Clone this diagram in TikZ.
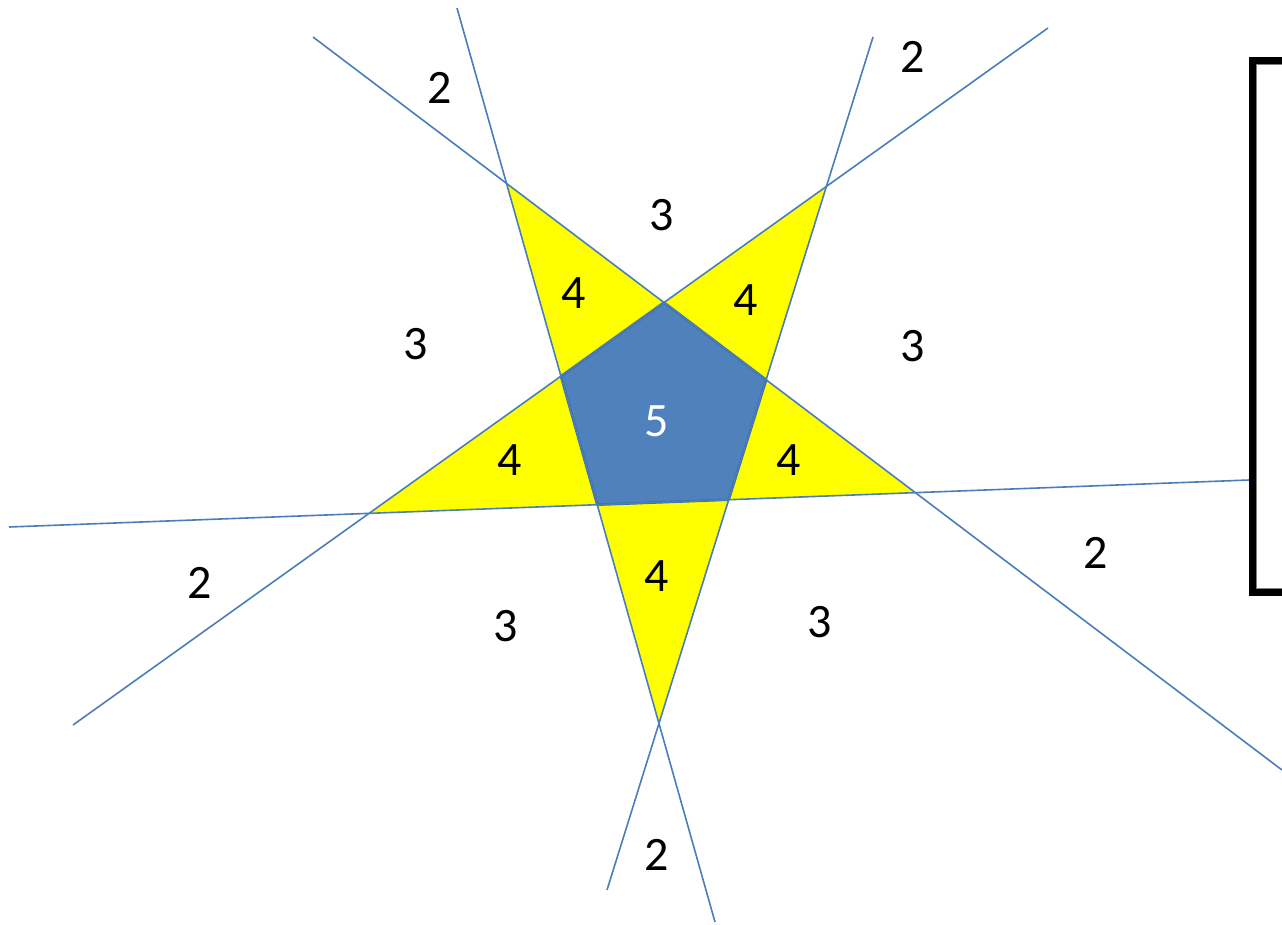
\documentclass[tikz,border=0pt]{standalone}
\usepackage{fontspec}
\setmainfont{Carlito}
\usepackage{xcolor}
\usetikzlibrary{calc}
\definecolor{lineblue}{HTML}{4A7EBB}
\definecolor{pentblue}{HTML}{4F81BD}
\definecolor{pentedge}{HTML}{3D6A9C}
\definecolor{tipyellow}{RGB}{255,255,0}
\tikzset{
  cut/.style={lineblue,line width=1.6pt},
  count/.style={font=\fontsize{48}{50}\selectfont,inner sep=0pt},
}

\begin{document}
\begin{tikzpicture}[x=1pt,y=-1pt]
  \useasboundingbox (0,0) rectangle (1282,924);
  % the five lines
  \coordinate (a1) at (313,37);   \coordinate (a2) at (1282,770);
  \coordinate (b1) at (1048,28);  \coordinate (b2) at (73,725);
  \coordinate (c1) at (873,37);   \coordinate (c2) at (607,890);
  \coordinate (d1) at (457,8);    \coordinate (d2) at (715,922);
  \coordinate (e1) at (9,527);    \coordinate (e2) at (1249,480);
  % star tips and pentagon corners
  \coordinate (tipA) at (intersection of a1--a2 and d1--d2);
  \coordinate (tipB) at (intersection of b1--b2 and c1--c2);
  \coordinate (tipC) at (intersection of a1--a2 and e1--e2);
  \coordinate (tipD) at (intersection of c1--c2 and d1--d2);
  \coordinate (tipE) at (intersection of b1--b2 and e1--e2);
  \coordinate (p1) at (intersection of a1--a2 and b1--b2);
  \coordinate (p2) at (intersection of a1--a2 and c1--c2);
  \coordinate (p3) at (intersection of c1--c2 and e1--e2);
  \coordinate (p4) at (intersection of d1--d2 and e1--e2);
  \coordinate (p5) at (intersection of b1--b2 and d1--d2);
  \fill[tipyellow] (tipA) -- (p1) -- (p5) -- cycle;
  \fill[tipyellow] (tipB) -- (p2) -- (p1) -- cycle;
  \fill[tipyellow] (tipC) -- (p3) -- (p2) -- cycle;
  \fill[tipyellow] (tipD) -- (p4) -- (p3) -- cycle;
  \fill[tipyellow] (tipE) -- (p5) -- (p4) -- cycle;
  \draw[pentedge,fill=pentblue,line width=2.5pt,line join=round]
    (p1) -- (p2) -- (p3) -- (p4) -- (p5) -- cycle;
  \draw[cut] (a1) -- (a2);
  \draw[cut] (b1) -- (b2);
  \draw[cut] (c1) -- (c2);
  \draw[cut] (d1) -- (d2);
  \draw[cut] (e1) -- (e2);
  % frame at the right edge
  \draw[line width=7pt] (1300,60.5) -- (1252.5,60.5) -- (1252.5,592.5) -- (1300,592.5);
  \draw[gray,line width=0.8pt] (1300,64.5) -- (1256.5,64.5) -- (1256.5,588.5) -- (1300,588.5);
  % region counts
  \node[count] (n2a) at (440,88) {2};
  \node[count] (n2b) at (913,57) {2};
  \node[count] (n2c) at (1096,553) {2};
  \node[count] (n2d) at (200,583) {2};
  \node[count] (n2e) at (657,855) {2};
  \node[count] (n3a) at (662,215) {3};
  \node[count] (n3b) at (416,344) {3};
  \node[count] (n3c) at (913,346) {3};
  \node[count] (n3d) at (506,626) {3};
  \node[count] (n3e) at (820,622) {3};
  \node[count] (n4a) at (574,293) {4};
  \node[count] (n4b) at (746,300) {4};
  \node[count] (n4c) at (510,460) {4};
  \node[count] (n4d) at (789,460) {4};
  \node[count] (n4e) at (657,576) {4};
  \node[count,white] (n5) at (657,421) {5};
\end{tikzpicture}
\end{document}
